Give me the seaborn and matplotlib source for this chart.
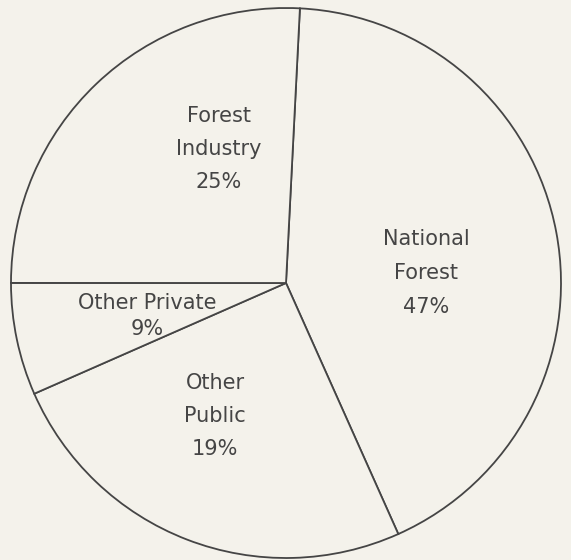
import matplotlib
matplotlib.use('Agg')
import matplotlib.pyplot as plt
import seaborn as sns

# ── data ───────────────────────────────────────────────────────────────────
owners = ['National Forest', 'Other Public', 'Other Private', 'Forest Industry']
# wedge shares as drawn in the picture (the printed labels differ a bit)
shares = [42.5, 25.1, 6.6, 25.8]
label_text = ['National\nForest\n47%', 'Other\nPublic\n19%',
              'Other Private\n9%', 'Forest\nIndustry\n25%']

# ── layout ─────────────────────────────────────────────────────────────────
bg = '#f4f2eb'
ink = '#454545'
W, H = 571, 560
label_pos = [(426, 273), (215, 416), (147, 316), (219, 149)]
label_spacing = [1.85, 1.8, 1.35, 1.8]

sns.set_theme(style='white')
plt.rcParams['font.family'] = ['DejaVu Sans']

fig = plt.figure(figsize=(W / 100, H / 100), dpi=100)
fig.patch.set_facecolor(bg)
ax = fig.add_axes([0, 0, 1, 1])
ax.set_facecolor(bg)

ax.pie(shares, startangle=87.1, counterclock=False,
       radius=275, center=(286, H - 283),
       colors=[bg] * len(shares),
       wedgeprops=dict(edgecolor=ink, linewidth=1.3))

for txt, (x, y), ls in zip(label_text, label_pos, label_spacing):
    ax.text(x, H - y, txt, ha='center', va='center', fontsize=15,
            color=ink, linespacing=ls)

ax.set_xlim(0, W)
ax.set_ylim(0, H)
ax.set_aspect('equal')
ax.axis('off')

plt.savefig('out.png', dpi=100, facecolor=bg)
plt.close()
